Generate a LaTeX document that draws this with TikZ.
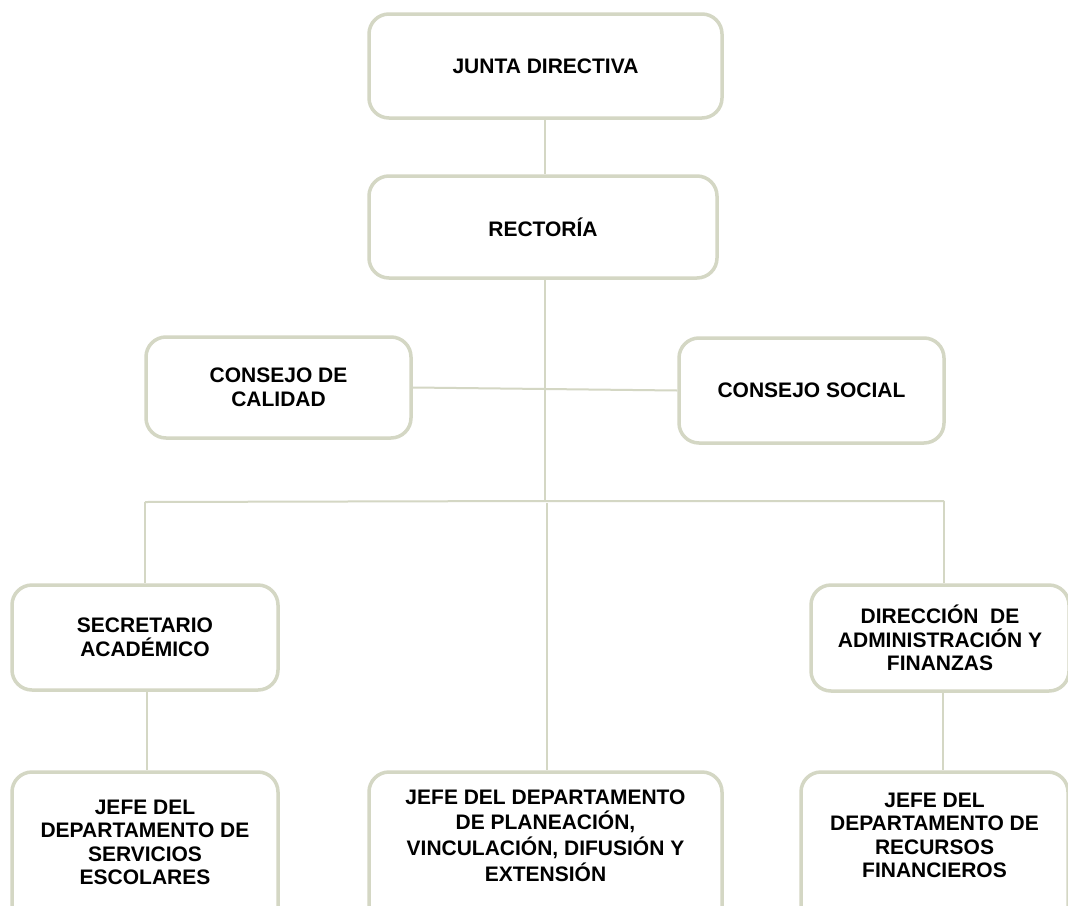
\documentclass[tikz,border=0pt]{standalone}
\usepackage{fontspec}
\setmainfont{Liberation Sans}
\definecolor{boxc}{RGB}{212,215,196}
\newcommand{\liftup}[2]{\raisebox{#1}[\dimexpr\height-#1\relax][\dimexpr\depth+#1\relax]{\begin{tabular}{@{}c@{}}#2\end{tabular}}}
\tikzset{
  x=1pt, y=-1pt,
  orgbox/.style={draw=boxc, line width=3.5pt, rounded corners=20pt, fill=white,
    inner sep=0pt, align=center, font=\fontsize{21}{23.5}\selectfont\bfseries},
  conn/.style={draw=boxc, line width=2pt}
}
\begin{document}
\begin{tikzpicture}
\useasboundingbox (0,0) rectangle (1068,905);
\clip (0,0) rectangle (1068,905);
\fill[white] (0,0) rectangle (1068,905);
% nodes
\node[orgbox, minimum width=353pt, minimum height=104pt] (junta) at (545.5,66) {JUNTA DIRECTIVA};
\node[orgbox, minimum width=348pt, minimum height=102pt] (rect) at (543,227) {RECTORÍA};
\node[orgbox, minimum width=265pt, minimum height=101pt] (cal) at (278.5,387.5) {CONSEJO DE\\CALIDAD};
\node[orgbox, minimum width=265pt, minimum height=105pt] (soc) at (811.5,390.5) {CONSEJO SOCIAL};
\node[orgbox, minimum width=266pt, minimum height=105pt] (sec) at (145,637.5) {SECRETARIO\\ACADÉMICO};
\node[orgbox, minimum width=258pt, minimum height=106pt] (dir) at (940,638) {DIRECCIÓN\ \ DE\\ADMINISTRACIÓN Y\\FINANZAS};
\node[orgbox, minimum width=266pt, minimum height=160pt] (esc) at (145,852) {\liftup{3.5pt}{JEFE DEL\\DEPARTAMENTO DE\\SERVICIOS\\ESCOLARES}};
\node[orgbox, minimum width=353pt, minimum height=160pt] (pla) at (545.5,852) {\liftup{7pt}{JEFE DEL DEPARTAMENTO\\DE PLANEACIÓN,\\VINCULACIÓN, DIFUSIÓN Y\\EXTENSIÓN}};
\node[orgbox, minimum width=267pt, minimum height=160pt] (fin) at (934.5,852) {\liftup{7pt}{JEFE DEL\\DEPARTAMENTO DE\\RECURSOS\\FINANCIEROS}};
% coordinates
\coordinate (bl) at (145,502);
\coordinate (bm) at (545,501);
\coordinate (br) at (944,501);
\coordinate (jr) at (545,118);
\coordinate (rb) at (545,278);
\coordinate (mt) at (547,503);
\coordinate (sb) at (147,690);
\coordinate (db) at (943,691);
% connectors
\draw[conn] (jr) -- (jr |- rect.north);
\draw[conn] (rb) -- (bm);
\draw[conn] (cal.east) -- (soc.west);
\draw[conn] (bl) -- (bm) -- (br);
\draw[conn] (bl) -- (bl |- sec.north);
\draw[conn] (br) -- (br |- dir.north);
\draw[conn] (mt) -- (mt |- pla.north);
\draw[conn] (sb) -- (sb |- esc.north);
\draw[conn] (db) -- (db |- fin.north);
\end{tikzpicture}
\end{document}
